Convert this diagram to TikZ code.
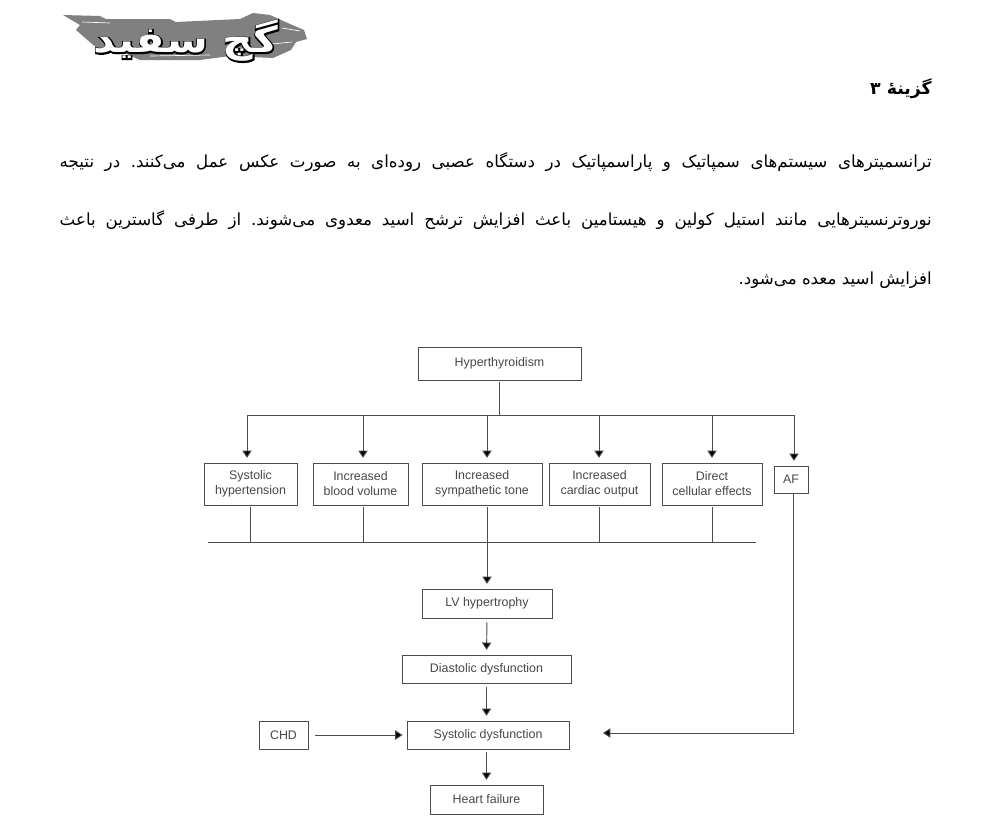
\documentclass[tikz,border=0pt]{standalone}
\usepackage{fontspec}
\usetikzlibrary{arrows.meta}
\setmainfont{Liberation Sans}
\TeXXeTstate=1
\newfontfamily\farsifont[Script=Arabic]{DejaVu Sans}
\newfontfamily\logofill[Script=Arabic,UprightFont=* Bold,FakeStretch=1.18]{DejaVu Sans}
\newfontfamily\logohalo[Script=Arabic,UprightFont=* Bold,FakeStretch=1.18,FakeBold=7]{DejaVu Sans}
\newcommand{\farsiline}[1]{\hbox to 654pt{\farsifont\fontsize{12.5}{14}\selectfont\frenchspacing\beginR #1\endR}}
\tikzset{
  blockbox/.style={draw=black!70,line width=0.7pt,fill=white,inner sep=0pt,align=center,text=black!72,font=\fontsize{9.3}{11.2}\selectfont},
  boxsize/.style 2 args={minimum width=#1*0.75pt,minimum height=#2*0.75pt},
  wire/.style={draw=black!70,line width=0.7pt},
  flow/.style={wire,-{Triangle[length=5.5pt,width=7pt,fill=black]},shorten >=3.5pt},
  farsi/.style={inner sep=0pt,anchor=east,text=black},
  streak/.style={white,line width=0.5pt},
  logotext/.style={inner sep=0pt,font=\fontsize{27}{30}\selectfont}
}
\begin{document}
\begin{tikzpicture}[x=0.75pt,y=0.75pt,yscale=-1,xscale=1]
    \useasboundingbox (0,0) rectangle (992,825);
    % logo
    \fill [black!50] (63,15) -- (100,16) -- (106,19) -- (170,19) -- (176,22) -- (240,19) -- (253,13) -- (270,15) -- (290,24) -- (304,30) -- (307,39) -- (296,42) -- (291,50) -- (273,58) -- (230,56) -- (200,60) -- (140,60) -- (122,52) -- (100,50) -- (92,44) -- (76,30) -- (80,25) -- cycle;
    \draw [streak] (82,22) -- (110,23);
    \draw [streak] (282,28) -- (300,31);
    \draw [streak] (272,44) -- (292,42);
    \draw [streak] (150,56) -- (210,55);
    \node (logoback) [logotext,text=black] at (186,41) {\logohalo\beginR گچ سفید\endR};
    \node (logofront) [logotext,text=white] at (186,41) {\logofill\beginR گچ سفید\endR};
    % text
    \node (head) [farsi] at (932,89) {\farsifont\bfseries\fontsize{13}{15}\selectfont\beginR گزینهٔ ۳\endR};
    \node (lineone) [farsi] at (932,162) {\farsiline{ترانسمیترهای سیستم‌های سمپاتیک و پاراسمپاتیک در دستگاه عصبی روده‌ای به صورت عکس عمل می‌کنند. در نتیجه}};
    \node (linetwo) [farsi] at (932,220) {\farsiline{نوروترنسیترهایی مانند استیل کولین و هیستامین باعث افزایش ترشح اسید معدوی می‌شوند. از طرفی گاسترین باعث}};
    \node (linethree) [farsi] at (932,280) {\farsifont\fontsize{12.5}{14}\selectfont\beginR افزایش اسید معده می‌شود.\endR};
    % boxes
    \node (hyper) [blockbox,boxsize={163}{33}] at (499.5,363.5) {Hyperthyroidism};
    \node (sysht) [blockbox,boxsize={93}{42}] at (250.5,484) {Systolic\\hypertension};
    \node (bloodvol) [blockbox,boxsize={95}{42}] at (360.5,484) {Increased\\blood volume};
    \node (symptone) [blockbox,boxsize={120}{42}] at (482,484) {Increased\\sympathetic tone};
    \node (cardout) [blockbox,boxsize={101}{42}] at (599.5,484) {Increased\\cardiac output};
    \node (cellular) [blockbox,boxsize={100}{42}] at (712,484) {Direct\\cellular effects};
    \node (af) [blockbox,boxsize={34}{27}] at (791,479.5) {AF};
    \node (lvh) [blockbox,boxsize={130}{29}] at (487,603.5) {LV hypertrophy};
    \node (diasdys) [blockbox,boxsize={169}{28}] at (486.5,669) {Diastolic dysfunction};
    \node (sysdys) [blockbox,boxsize={162}{28}] at (488,735) {Systolic dysfunction};
    \node (hfail) [blockbox,boxsize={113}{29}] at (486.5,799.5) {Heart failure};
    \node (chd) [blockbox,boxsize={49}{28}] at (283.5,735) {CHD};
    % bus lines
    \coordinate (busstem) at (499.5,415);
    \coordinate (busa) at (247,415);
    \coordinate (busb) at (363,415);
    \coordinate (busc) at (487,415);
    \coordinate (busd) at (599,415);
    \coordinate (buse) at (712,415);
    \coordinate (busf) at (794,415);
    \coordinate (barl) at (208,542);
    \coordinate (barr) at (756,542);
    \coordinate (symout) at (487,505);
    \coordinate (afout) at (793,493);
    \coordinate (afcorner) at (793,733);
    \coordinate (aftip) at (603,733);
    \draw [wire,shorten <=1.5pt] (hyper.south) -- (busstem);
    \draw [wire] (busa) -- (busf);
    \draw [flow] (busa) -- (busa |- sysht.north);
    \draw [flow] (busb) -- (busb |- bloodvol.north);
    \draw [flow] (busc) -- (busc |- symptone.north);
    \draw [flow] (busd) -- (busd |- cardout.north);
    \draw [flow] (buse) -- (buse |- cellular.north);
    \draw [flow] (busf) -- (busf |- af.north);
    \draw [wire] (barl) -- (barr);
    \draw [wire,shorten <=1.5pt] (sysht.south) -- (sysht.south |- barl);
    \draw [wire,shorten <=1.5pt] (bloodvol.south -| busb) -- (busb |- barl);
    \draw [wire,shorten <=1.5pt] (cardout.south -| busd) -- (busd |- barl);
    \draw [wire,shorten <=1.5pt] (cellular.south) -- (cellular.south |- barl);
    % down the middle
    \draw [flow,shorten <=1.5pt] (symout) -- (lvh.north);
    \draw [flow,shorten <=3pt] (lvh.south) -- (diasdys.north);
    \draw [flow,shorten <=3pt] (diasdys.south) -- (sysdys.north -| diasdys.south);
    \draw [flow,shorten <=2pt] (sysdys.south -| hfail.north) -- (hfail.north);
    \draw [flow,shorten <=5pt,shorten >=3pt] (chd.east) -- (sysdys.west);
    \draw [flow,shorten >=0pt] (afout) -- (afcorner) -- (aftip);
\end{tikzpicture}
\end{document}
